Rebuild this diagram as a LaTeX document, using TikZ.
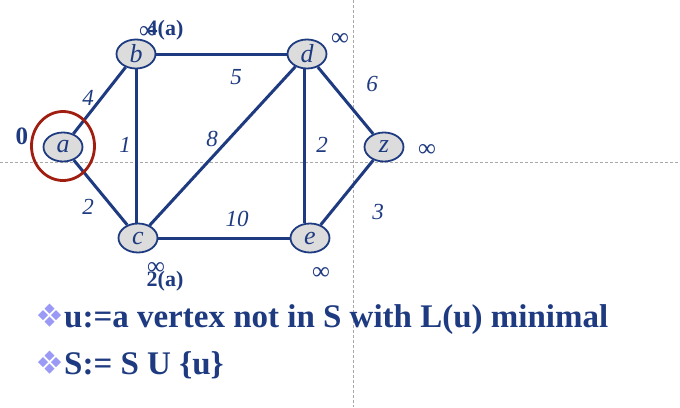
\documentclass[tikz,border=0pt]{standalone}
\usepackage{fontspec}
\setmainfont{Liberation Serif}
\usetikzlibrary{shapes.geometric}
\definecolor{navy}{HTML}{1E3A80}
\definecolor{nodefill}{HTML}{DCDCDC}
\definecolor{ringred}{HTML}{A01E10}
\definecolor{lav}{HTML}{9A9AF6}
\definecolor{guide}{HTML}{A8A8A8}
\tikzset{
  vert/.style={ellipse,draw=navy,line width=1.8pt,fill=nodefill,minimum width=39pt,minimum height=29pt,inner sep=0pt,text=navy,font=\fontsize{26}{26}\selectfont\itshape},
  edge/.style={draw=navy,line width=3pt},
  wt/.style={text=navy,font=\fontsize{23}{23}\selectfont\itshape,inner sep=0pt},
  inf/.style={text=navy,font=\fontsize{25}{25}\selectfont,inner sep=0pt},
  dist/.style={text=navy,font=\fontsize{22}{22}\selectfont\bfseries,inner sep=0pt},
  guideline/.style={draw=guide,line width=0.7pt,dash pattern=on 3pt off 2pt},
  bigtext/.style={text=navy,font=\fontsize{33}{33}\selectfont\bfseries,inner sep=0pt,anchor=base west},
  bull/.style={fill=lav}
}
\newcommand{\mybullet}[2]{%
  \foreach \dx/\dy in {-6.5/0,6.5/0,0/-6.5,0/6.5}{%
    \fill[bull] ({#1+\dx-5},{#2+\dy}) -- ({#1+\dx},{#2+\dy-5}) -- ({#1+\dx+5},{#2+\dy}) -- ({#1+\dx},{#2+\dy+5}) -- cycle;}%
}
\begin{document}
\begin{tikzpicture}[x=1pt,y=-1pt]
\useasboundingbox (0,0) rectangle (680,407);
\fill[white] (0,0) rectangle (680,407);
% guide lines
\coordinate (gl) at (0,162);
\coordinate (gr) at (680,162);
\coordinate (gt) at (353,0);
\coordinate (gb) at (353,407);
\draw[guideline] (gl) -- (gr);
\draw[guideline] (gt) -- (gb);
% vertices
\node[vert] (a) at (63,147) {a};
\node[vert] (b) at (136,54) {b};
\node[vert] (d) at (307,54) {d};
\node[vert] (z) at (384,147) {z};
\node[vert] (c) at (138,238) {c};
\node[vert] (e) at (310,238) {e};
% edges
\draw[edge] (a) -- (b);
\draw[edge] (a) -- (c);
\draw[edge] (b) -- (d);
\draw[edge] (b.south) -- (b.south |- c.north);
\draw[edge] (c) -- (d);
\draw[edge] (c) -- (e);
\draw[edge] ([xshift=-3pt]d.south) -- ([xshift=-6pt]e.north);
\draw[edge] (d) -- (z);
\draw[edge] (z) -- (e);
% red ring
\node[draw=ringred,line width=2.8pt,ellipse,minimum width=63pt,minimum height=69pt] (ring) at (63,146) {};
% weights
\node[wt] (w1) at (88,98) {4};
\node[wt] (w2) at (88,207) {2};
\node[wt] (w3) at (125,145) {1};
\node[wt] (w4) at (236,77) {5};
\node[wt] (w5) at (212,139) {8};
\node[wt] (w6) at (237,219) {10};
\node[wt] (w7) at (322,145) {2};
\node[wt] (w8) at (372,84) {6};
\node[wt] (w9) at (378,212) {3};
% labels
\node[dist,font=\fontsize{25}{25}\selectfont\bfseries] (l0) at (22,136) {0};
\node[inf] (ib) at (148,32) {∞};
\node[dist] (lb) at (165,30) {4(a)};
\node[inf] (ic) at (156,268) {∞};
\node[dist] (lc) at (165,281) {2(a)};
\node[inf] (id) at (340,39) {∞};
\node[inf] (iz) at (427,150) {∞};
\node[inf] (ie) at (321,273) {∞};
% text
\mybullet{49.5}{315}
\mybullet{49.5}{362}
\node[bigtext] (t1) at (64,327) {u:=a vertex not in S with L(u) minimal};
\node[bigtext] (t2) at (64,374) {S:= S U \{u\}};
\end{tikzpicture}
\end{document}
